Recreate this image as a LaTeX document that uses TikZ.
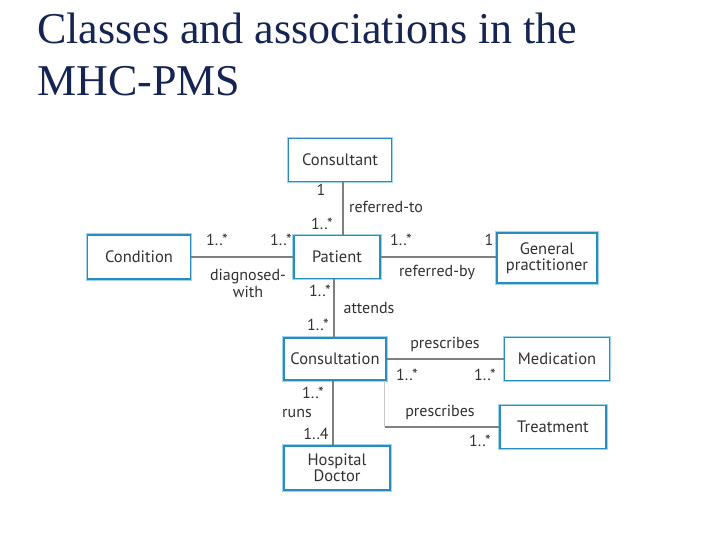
\documentclass[tikz,border=0pt]{standalone}
\usepackage{fontspec}
\setmainfont{Liberation Serif}
\newfontfamily\lblfont{PT Sans}
\definecolor{titlecol}{RGB}{22,36,84}
\definecolor{boxcol}{RGB}{40,140,190}
\definecolor{boxglow}{RGB}{160,212,235}
\definecolor{linecol}{RGB}{128,128,128}
\definecolor{lightlinecol}{RGB}{200,200,200}
\definecolor{txtcol}{RGB}{50,50,50}
\begin{document}
\begin{tikzpicture}[x=1pt,y=-1pt,
  cls/.style={preaction={draw=boxglow, line width=3.2pt}, draw=boxcol, line width=1.4pt,
    fill=white, align=center, inner sep=0pt,
    font=\lblfont\fontsize{16.5}{16}\selectfont, text=txtcol},
  lbl/.style={font=\lblfont\fontsize{16}{17}\selectfont, text=txtcol, inner sep=0pt, align=center},
  assoc/.style={draw=linecol, line width=1.3pt},
  lightassoc/.style={draw=lightlinecol, line width=1.3pt},
  ttl/.style={anchor=base west, inner sep=0pt, text=titlecol, font=\fontsize{44}{52}\selectfont}]
\useasboundingbox (0,0) rectangle (720,540);
\fill[white] (0,0) rectangle (720,540);
% title
\node[ttl] (title1) at (37,44) {Classes and associations in the};
\node[ttl] (title2) at (37,96) {MHC-PMS};
% classes
\node[cls, minimum width=103pt, minimum height=43pt] (cons) at (340,160) {Consultant};
\node[cls, minimum width=103pt, minimum height=44pt] (cond) at (139,257) {Condition};
\node[cls, minimum width=86pt, minimum height=43pt] (pat) at (337,257) {Patient};
\node[cls, minimum width=100pt, minimum height=50pt] (gp) at (547,258) {General\\practitioner};
\node[cls, minimum width=102pt, minimum height=42pt] (cnsl) at (335,359) {Consultation};
\node[cls, minimum width=105pt, minimum height=43pt] (med) at (557,359) {Medication};
\node[cls, minimum width=106pt, minimum height=43pt] (treat) at (553,427) {Treatment};
\node[cls, minimum width=106pt, minimum height=44pt] (hd) at (337,468) {Hospital\\Doctor};
% associations
\draw[assoc] ([xshift=3pt]cons.south) -- ([xshift=3pt]cons.south |- pat.north);
\draw[assoc] (cond.east) -- (cond.east -| pat.west);
\draw[assoc] (pat.east) -- (pat.east -| gp.west);
\draw[assoc] ([xshift=-3pt]pat.south) -- ([xshift=-3pt]pat.south |- cnsl.north);
\draw[assoc] (cnsl.east) -- (cnsl.east -| med.west);
\draw[assoc] ([xshift=-2pt]cnsl.south) -- ([xshift=-2pt]cnsl.south |- hd.north);
\coordinate (tcorner) at ([xshift=-2pt]cnsl.south east |- treat.west);
\draw[lightassoc] ([xshift=-2pt]cnsl.south east) -- (tcorner);
\draw[assoc] (tcorner) -- (treat.west);
% labels
\node[lbl] (l1) at (321,190) {1};
\node[lbl] (lrt) at (386,207) {referred-to};
\node[lbl] (l2) at (322,224) {1..*};
\node[lbl] (l3) at (217,240) {1..*};
\node[lbl] (l4) at (281,240) {1..*};
\node[lbl] (ldw) at (248,283) {diagnosed-\\with};
\node[lbl] (l5) at (401,240) {1..*};
\node[lbl] (l6) at (489,240) {1};
\node[lbl] (lrb) at (437,272) {referred-by};
\node[lbl] (l7) at (320,291) {1..*};
\node[lbl] (lat) at (369,308) {attends};
\node[lbl] (l8) at (318,325) {1..*};
\node[lbl] (lp1) at (445,344) {prescribes};
\node[lbl] (l9) at (407,375) {1..*};
\node[lbl] (l10) at (485,375) {1..*};
\node[lbl] (l11) at (313,393) {1..*};
\node[lbl] (lruns) at (297,413) {runs};
\node[lbl] (l12) at (316,434) {1..4};
\node[lbl] (lp2) at (440,412) {prescribes};
\node[lbl] (l13) at (480,441) {1..*};
\end{tikzpicture}
\end{document}
